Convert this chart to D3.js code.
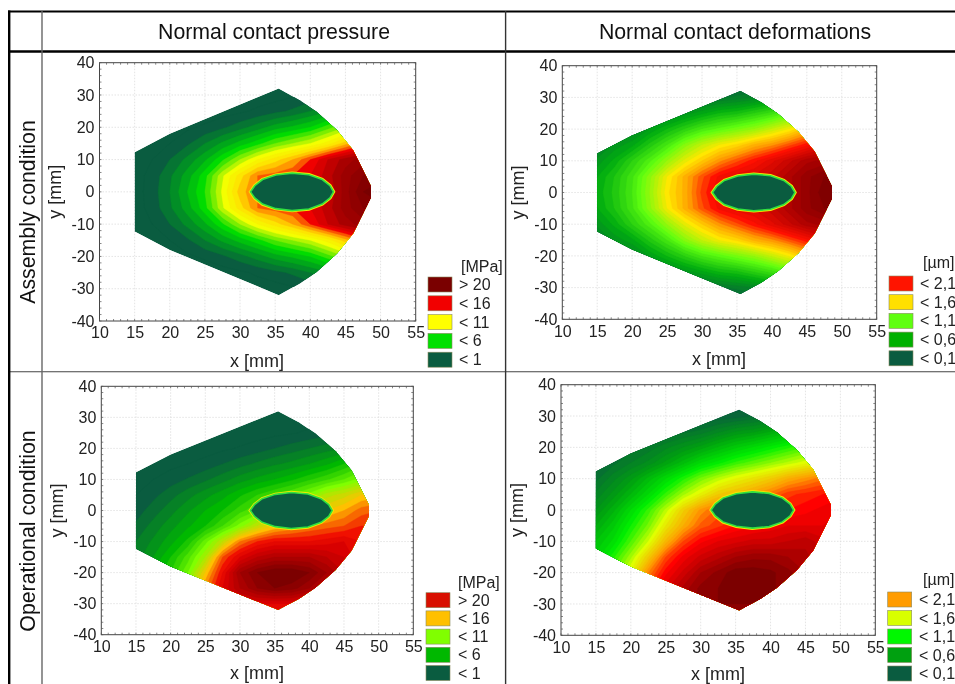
<!DOCTYPE html>
<html>
<head>
<meta charset="utf-8">
<style>
  html, body { margin: 0; padding: 0; background: #fff; overflow: hidden; }
  svg { display: block; font-family: "Liberation Sans", Arial, sans-serif; filter: blur(0.35px); }
  .tick text { fill: #222; }
</style>
</head>
<body>
<svg id="chart" width="955" height="684"></svg>
<script src="https://cdn.jsdelivr.net/npm/d3@7"></script>
<script>
// Contour values on a 2.5 x 5 mm grid.
const gridX = [15, 17.5, 20, 22.5, 25, 27.5, 30, 32.5, 35, 37.5, 40, 42.5, 45, 47.5, 50];
const gridY = [35, 30, 25, 20, 15, 10, 5, 0, -5, -10, -15, -20, -25, -30, -35];

const pressureAssembly = [
  [0, 0, 0, 0, 0, 0, 0, 0, 0.2, 0.3, 0.4, 0.5, 0.6, 0.7, 0.8],
  [0, 0, 0, 0, 0.1, 0.2, 0.3, 0.4, 0.5, 0.8, 1.2, 1.6, 2, 2.5, 3],
  [0, 0, 0.1, 0.2, 0.3, 0.5, 0.8, 1.2, 1.7, 2.2, 3, 3.8, 4.5, 5.5, 6],
  [0, 0.2, 0.5, 0.8, 1.2, 1.8, 2.6, 3.5, 4.5, 5.2, 6, 7.5, 9, 10, 11],
  [0, 0.5, 1, 1.8, 3, 4.2, 5.4, 6.6, 8, 9, 10, 11.5, 13.5, 15.5, 16.5],
  [0.3, 1, 2, 3.3, 4.8, 6.8, 9, 11, 12.5, 14, 16, 18, 19.5, 20.5, 21],
  [0.5, 1.4, 2.8, 4.5, 6.6, 9.8, 12.5, 15, 15.5, 16, 17, 18.5, 20.5, 22, 22.5],
  [0.5, 1.5, 3, 5, 7, 10.2, 13.5, 15, 15.5, 16, 17, 18, 20.5, 23, 24],
  [0.5, 1.4, 2.8, 4.5, 6.6, 9.8, 12.5, 15, 15.5, 16, 17, 18.5, 20.5, 22, 22.5],
  [0.3, 1, 2, 3.3, 4.8, 6.8, 9, 11, 12.5, 14, 16, 18, 19.5, 20.5, 21],
  [0, 0.5, 1, 1.8, 3, 4.2, 5.4, 6.6, 8, 9, 10, 11.5, 13.5, 15.5, 16.5],
  [0, 0.2, 0.5, 0.8, 1.2, 1.8, 2.6, 3.5, 4.5, 5.2, 6, 7.5, 9, 10, 11],
  [0, 0, 0.1, 0.2, 0.3, 0.5, 0.8, 1.2, 1.7, 2.2, 3, 3.8, 4.5, 5.5, 6],
  [0, 0, 0, 0, 0.1, 0.2, 0.3, 0.4, 0.5, 0.8, 1.2, 1.6, 2, 2.5, 3],
  [0, 0, 0, 0, 0, 0, 0, 0, 0.2, 0.3, 0.4, 0.5, 0.6, 0.7, 0.8],
];

const deformAssembly = [
  [0.05, 0.05, 0.05, 0.05, 0.05, 0.05, 0.05, 0.1, 0.1, 0.15, 0.2, 0.3, 0.4, 0.5, 0.6],
  [0.05, 0.05, 0.1, 0.1, 0.15, 0.2, 0.25, 0.3, 0.35, 0.4, 0.5, 0.6, 0.75, 0.9, 1],
  [0.1, 0.15, 0.2, 0.3, 0.4, 0.5, 0.6, 0.7, 0.75, 0.85, 0.95, 1.1, 1.3, 1.5, 1.6],
  [0.2, 0.3, 0.4, 0.55, 0.7, 0.85, 1, 1.1, 1.2, 1.3, 1.45, 1.6, 1.8, 2, 2.1],
  [0.35, 0.5, 0.6, 0.8, 1, 1.25, 1.45, 1.6, 1.7, 1.85, 1.95, 2.1, 2.25, 2.4, 2.5],
  [0.5, 0.65, 0.85, 1.05, 1.3, 1.55, 1.75, 1.95, 2.1, 2.25, 2.4, 2.55, 2.7, 2.75, 2.75],
  [0.62, 0.78, 0.98, 1.27, 1.6, 1.85, 2.1, 2.3, 2.4, 2.45, 2.55, 2.7, 2.85, 2.95, 3],
  [0.65, 0.8, 1, 1.3, 1.65, 1.85, 2.15, 2.35, 2.4, 2.45, 2.55, 2.7, 2.85, 3, 3.05],
  [0.62, 0.78, 0.98, 1.27, 1.6, 1.85, 2.1, 2.3, 2.4, 2.45, 2.55, 2.7, 2.85, 2.95, 3],
  [0.5, 0.65, 0.85, 1.05, 1.3, 1.55, 1.75, 1.95, 2.1, 2.25, 2.4, 2.55, 2.7, 2.75, 2.75],
  [0.35, 0.5, 0.6, 0.8, 1, 1.25, 1.45, 1.6, 1.7, 1.85, 1.95, 2.1, 2.25, 2.4, 2.5],
  [0.2, 0.3, 0.4, 0.55, 0.7, 0.85, 1, 1.1, 1.2, 1.3, 1.45, 1.6, 1.8, 2, 2.1],
  [0.1, 0.15, 0.2, 0.3, 0.4, 0.5, 0.6, 0.7, 0.75, 0.85, 0.95, 1.1, 1.3, 1.5, 1.6],
  [0.05, 0.05, 0.1, 0.1, 0.15, 0.2, 0.25, 0.3, 0.35, 0.4, 0.5, 0.6, 0.75, 0.9, 1],
  [0.05, 0.05, 0.05, 0.05, 0.05, 0.05, 0.05, 0.1, 0.1, 0.15, 0.2, 0.3, 0.4, 0.5, 0.6],
];

const pressureOperational = [
  [0, 0, 0, 0, 0, 0, 0, 0, 0, 0, 0, 0, 0, 0, 0],
  [0.2, 0.2, 0.2, 0.2, 0.2, 0.2, 0.2, 0.2, 0.2, 0.3, 0.5, 0.6, 0.7, 0.8, 0.9],
  [0.2, 0.2, 0.2, 0.2, 0.2, 0.2, 0.4, 0.5, 0.7, 0.9, 1.2, 1.6, 2, 2.5, 3],
  [0.2, 0.2, 0.2, 0.3, 0.5, 0.8, 1.1, 1.5, 2, 2.5, 3, 3.5, 4, 5, 5],
  [0.3, 0.5, 0.7, 1, 1.4, 2, 2.6, 3.2, 3.8, 4.3, 5, 5.8, 7, 8.5, 9],
  [0.6, 1, 1.5, 2.1, 2.8, 3.6, 4.5, 5.3, 6, 6.8, 7.8, 8.8, 10, 11.5, 12],
  [1, 1.7, 2.6, 3.6, 4.6, 5.6, 6.8, 8, 9, 10, 11.5, 13.5, 14.5, 16, 16.5],
  [1.5, 2.5, 3.6, 4.8, 6, 7, 8.5, 10, 12, 13, 15, 16, 17, 18.5, 19],
  [2.2, 3.4, 4.6, 5.8, 7, 9, 11.5, 14, 16, 17, 18, 18.5, 19, 20, 20],
  [3, 4.2, 5.6, 7.3, 10.5, 14, 18, 20, 21, 21, 21, 21.5, 22, 21, 20],
  [3.5, 5, 7, 9.5, 13, 19, 22, 24, 25, 25, 25, 24, 23, 21, 20],
  [4, 6, 8, 11, 16, 21, 26, 28, 29, 29, 28, 26, 24, 22, 20],
  [5, 7, 9, 13, 18, 22, 25, 27, 28, 27.5, 26, 24, 22, 21, 20],
  [6, 8, 11, 15, 19, 21, 22, 22, 22, 22, 21, 21, 20, 20, 20],
  [8, 10, 13, 16, 19, 20, 20, 20, 20, 20, 20, 20, 20, 20, 20],
];

const deformOperational = [
  [0.05, 0.05, 0.05, 0.05, 0.05, 0.05, 0.05, 0.05, 0.1, 0.1, 0.1, 0.1, 0.1, 0.1, 0.1],
  [0.1, 0.1, 0.1, 0.1, 0.1, 0.12, 0.15, 0.18, 0.2, 0.25, 0.3, 0.4, 0.5, 0.55, 0.6],
  [0.1, 0.12, 0.15, 0.2, 0.25, 0.3, 0.35, 0.45, 0.55, 0.6, 0.7, 0.8, 0.9, 0.95, 1],
  [0.15, 0.2, 0.3, 0.35, 0.45, 0.55, 0.65, 0.78, 0.9, 1, 1.1, 1.2, 1.3, 1.4, 1.45],
  [0.2, 0.3, 0.4, 0.5, 0.65, 0.82, 1, 1.12, 1.25, 1.35, 1.45, 1.55, 1.65, 1.75, 1.8],
  [0.3, 0.45, 0.6, 0.8, 1, 1.2, 1.4, 1.55, 1.68, 1.78, 1.9, 2.05, 2.15, 2.25, 2.3],
  [0.42, 0.58, 0.78, 1, 1.25, 1.5, 1.7, 1.9, 2, 2.12, 2.25, 2.4, 2.45, 2.5, 2.55],
  [0.55, 0.75, 1, 1.25, 1.55, 1.88, 2.15, 2.3, 2.35, 2.4, 2.45, 2.5, 2.55, 2.6, 2.65],
  [0.7, 0.9, 1.15, 1.4, 1.75, 2.05, 2.3, 2.4, 2.5, 2.55, 2.6, 2.65, 2.65, 2.65, 2.65],
  [0.85, 1.02, 1.3, 1.6, 2, 2.35, 2.55, 2.65, 2.7, 2.75, 2.75, 2.8, 2.85, 2.75, 2.7],
  [0.95, 1.2, 1.5, 1.9, 2.35, 2.6, 2.75, 2.85, 2.95, 3, 3, 2.95, 2.9, 2.8, 2.75],
  [1.05, 1.35, 1.7, 2.2, 2.55, 2.75, 2.95, 3.05, 3.15, 3.15, 3.12, 3.05, 2.95, 2.85, 2.8],
  [1.2, 1.5, 1.9, 2.4, 2.7, 2.9, 3.05, 3.1, 3.15, 3.15, 3.12, 3.05, 2.95, 2.85, 2.8],
  [1.4, 1.7, 2.1, 2.5, 2.8, 2.95, 3.05, 3.1, 3.1, 3.1, 3.05, 3, 2.9, 2.85, 2.8],
  [1.6, 1.9, 2.3, 2.6, 2.85, 2.95, 3, 3, 3, 3, 3, 2.95, 2.9, 2.85, 2.8],
];

// Outline of the contact surface and of the hole, in mm
const outlineX = [15, 20, 35.5, 38.5, 40.9, 43.8, 46.1, 48.6, 48.6, 46.1, 43.8, 40.9, 38.5, 35.5, 20, 15];
const outlineY = [12.3, 18, 32, 28.4, 24.8, 19.1, 12.9, 1.8, -1.8, -12.9, -19.1, -24.8, -28.4, -32, -18, -12.3];
const holeX = [31.5, 32.1, 33.2, 35.1, 37.4, 39.8, 41.7, 42.8, 43.3, 42.8, 41.7, 39.8, 37.4, 35.1, 33.2, 32.1];
const holeY = [0, 1.9, 3.8, 5.2, 5.8, 5.3, 3.8, 1.9, 0, -1.9, -3.8, -5.3, -5.8, -5.2, -3.8, -1.9];

const axisXTicks = d3.range(10, 56, 5);
const axisYTicks = d3.range(-40, 41, 10);

const pressureLabels = ["> 20", "< 16", "< 11", "< 6", "< 1"];
const deformLabels = ["< 2,1", "< 1,6", "< 1,1", "< 0,6", "< 0,1"];

const DARK_GREEN = "#0a5c40";

// One entry per plot. frame = left, right, top, bottom of the plot box in the page.
const panels = [
  {
    values: pressureAssembly, thresholds: d3.range(1, 25, 1),
    stops: [1, 3.5, 6, 10, 12.5, 14.5, 16, 19, 23],
    colors: [DARK_GREEN, "#009a20", "#00dc00", "#f4ff00", "#ffe000", "#ff8000", "#f00000", "#a80000", "#780000"],
    frame: [99.5, 415.7, 62.7, 321],
    legendColors: ["#7a0000", "#f20000", "#ffff00", "#00e000", DARK_GREEN],
    legendLabels: pressureLabels, unit: "[MPa]",
    legend: { x: 428, y: 277, step: 18.8, textX: 459, unitX: 461, unitY: 272 },
    xLabel: [257, 367], yLabelX: 61,
  },
  {
    values: deformAssembly, thresholds: d3.range(0.1, 3.05, 0.075),
    stops: [0.1, 0.6, 1.1, 1.6, 1.9, 2.2, 2.7, 3],
    colors: [DARK_GREEN, "#00ac10", "#60ff10", "#ffe800", "#ff9a00", "#ff1000", "#a80000", "#780000"],
    frame: [562.3, 876.7, 65.7, 319.3],
    legendColors: ["#ff1400", "#ffe000", "#60ff10", "#00b000", DARK_GREEN],
    legendLabels: deformLabels, unit: "[\u00b5m]",
    legend: { x: 889, y: 276, step: 18.7, textX: 920, unitX: 923, unitY: 268 },
    xLabel: [719, 365], yLabelX: 524,
  },
  {
    values: pressureOperational, thresholds: d3.range(1, 30, 1),
    stops: [1, 6, 11, 16, 20, 22, 28],
    colors: [DARK_GREEN, "#00b800", "#80ff00", "#ffc000", "#f01000", "#d80000", "#7c0000"],
    frame: [101.3, 413.3, 386.3, 634.7],
    legendColors: ["#d81000", "#ffc000", "#80ff00", "#00b800", DARK_GREEN],
    legendLabels: pressureLabels, unit: "[MPa]",
    legend: { x: 426, y: 592.7, step: 18.2, textX: 458, unitX: 458, unitY: 588 },
    xLabel: [257, 679], yLabelX: 63,
  },
  {
    values: deformOperational, thresholds: d3.range(0.1, 3.3, 0.075),
    stops: [0.1, 0.6, 1.1, 1.6, 2.1, 2.5, 3.1],
    colors: [DARK_GREEN, "#00a010", "#00f000", "#e0ff00", "#ff9c00", "#ff0000", "#7c0000"],
    frame: [561, 875.3, 384.7, 635.3],
    legendColors: ["#ff9c00", "#d8ff00", "#00f800", "#00a010", DARK_GREEN],
    legendLabels: deformLabels, unit: "[\u00b5m]",
    legend: { x: 887.7, y: 592, step: 18.5, textX: 919, unitX: 923, unitY: 585 },
    xLabel: [718, 680], yLabelX: 523,
  },
];

const svg = d3.select("#chart");

function drawTable() {
  const g = svg.append("g").attr("fill", "none");
  g.append("line").attr("x1", 8).attr("x2", 955).attr("y1", 11.5).attr("y2", 11.5).attr("stroke", "#000").attr("stroke-width", 2.2);
  g.append("line").attr("x1", 8).attr("x2", 955).attr("y1", 51.5).attr("y2", 51.5).attr("stroke", "#000").attr("stroke-width", 2.4);
  g.append("line").attr("x1", 9).attr("x2", 955).attr("y1", 371.8).attr("y2", 371.8).attr("stroke", "#444").attr("stroke-width", 1.1);
  g.append("line").attr("x1", 9.2).attr("x2", 9.2).attr("y1", 10.5).attr("y2", 684).attr("stroke", "#000").attr("stroke-width", 2.4);
  g.append("line").attr("x1", 42).attr("x2", 42).attr("y1", 11).attr("y2", 684).attr("stroke", "#666").attr("stroke-width", 1.4);
  g.append("line").attr("x1", 505.6).attr("x2", 505.6).attr("y1", 11).attr("y2", 684).attr("stroke", "#333").attr("stroke-width", 1.4);

  const t = svg.append("g").attr("fill", "#111").attr("font-size", 21.3);
  t.append("text").attr("x", 274).attr("y", 38.5).attr("text-anchor", "middle").text("Normal contact pressure");
  t.append("text").attr("x", 735).attr("y", 38.5).attr("text-anchor", "middle").text("Normal contact deformations");
  t.append("text").attr("transform", "translate(35,212) rotate(-90)").attr("text-anchor", "middle").text("Assembly condition");
  t.append("text").attr("transform", "translate(35,531) rotate(-90)").attr("text-anchor", "middle").text("Operational condition");
}

function drawPanel(panel, idx) {
  const [left, right, top, bottom] = panel.frame;
  const x = d3.scaleLinear().domain([10, 55]).range([left, right]);
  const y = d3.scaleLinear().domain([-40, 40]).range([bottom, top]);
  const color = d3.scaleLinear().domain(panel.stops).range(panel.colors).clamp(true);
  const g = svg.append("g");

  // grid
  g.append("g").selectAll("line").data(axisXTicks.slice(1, -1)).enter().append("line")
    .attr("x1", d => x(d)).attr("x2", d => x(d)).attr("y1", top).attr("y2", bottom)
    .attr("stroke", "#ddd").attr("stroke-width", 0.8).attr("stroke-dasharray", "1.5,1.5");
  g.append("g").selectAll("line").data(axisYTicks.slice(1, -1)).enter().append("line")
    .attr("x1", left).attr("x2", right).attr("y1", d => y(d)).attr("y2", d => y(d))
    .attr("stroke", "#ddd").attr("stroke-width", 0.8).attr("stroke-dasharray", "1.5,1.5");

  const outline = outlineX.map((d, i) => [x(d), y(outlineY[i])]);
  const hole = holeX.map((d, i) => [x(d), y(holeY[i])]);
  const clipId = "clip-" + idx;
  svg.append("clipPath").attr("id", clipId).append("polygon").attr("points", outline.join(" "));

  // contour bands; d3.contours puts sample i at i + 0.5
  const contours = d3.contours()
    .size([gridX.length, gridY.length])
    .thresholds(panel.thresholds)(panel.values.flat());
  const stepX = gridX[1] - gridX[0], stepY = gridY[1] - gridY[0];
  const path = d3.geoPath(d3.geoTransform({
    point(px, py) {
      this.stream.point(x(gridX[0] + (px - 0.5) * stepX), y(gridY[0] + (py - 0.5) * stepY));
    },
  }));

  const bands = g.append("g").attr("clip-path", `url(#${clipId})`);
  bands.append("polygon").attr("points", outline.join(" ")).attr("fill", DARK_GREEN);
  bands.selectAll("path").data(contours).enter().append("path")
    .attr("d", path)
    .attr("fill", d => color(d.value))
    .attr("stroke", d => color(d.value))
    .attr("stroke-width", 0.4);

  // hole with its bright rim
  g.append("polygon").attr("points", hole.join(" ")).attr("fill", "none")
    .attr("stroke", "#f0e800").attr("stroke-width", 3.4);
  g.append("polygon").attr("points", hole.join(" ")).attr("fill", DARK_GREEN)
    .attr("stroke", "#30e040").attr("stroke-width", 1.6);

  // frame, ticks
  g.append("rect").attr("x", left).attr("y", top).attr("width", right - left).attr("height", bottom - top)
    .attr("fill", "none").attr("stroke", "#444").attr("stroke-width", 1);

  const minorX = d3.range(10, 55.5, 1);
  const minorY = d3.range(-40, 40.5, 2);
  const ticks = g.append("g").attr("stroke", "#555").attr("stroke-width", 0.7);
  [top, bottom].forEach((edge, e) => {
    ticks.append("g").selectAll("line").data(minorX).enter().append("line")
      .attr("x1", d => x(d)).attr("x2", d => x(d))
      .attr("y1", edge).attr("y2", edge + (e ? -2 : 2));
  });
  [left, right].forEach((edge, e) => {
    ticks.append("g").selectAll("line").data(minorY).enter().append("line")
      .attr("y1", d => y(d)).attr("y2", d => y(d))
      .attr("x1", edge).attr("x2", edge + (e ? -2 : 2));
  });

  // plain hyphen on the negative labels, like the reference
  const xAxis = d3.axisBottom(x).tickValues(axisXTicks).tickSize(0).tickPadding(6);
  const yAxis = d3.axisLeft(y).tickValues(axisYTicks).tickFormat(d => String(d)).tickSize(0).tickPadding(5);
  g.append("g").attr("transform", `translate(0,${bottom})`).call(xAxis)
    .call(a => a.select(".domain").remove())
    .selectAll("text").attr("font-size", 16).attr("font-family", "Liberation Sans");
  g.append("g").attr("transform", `translate(${left},0)`).call(yAxis)
    .call(a => a.select(".domain").remove())
    .selectAll("text").attr("font-size", 16).attr("font-family", "Liberation Sans");

  g.append("text").attr("x", panel.xLabel[0]).attr("y", panel.xLabel[1]).attr("text-anchor", "middle")
    .attr("font-size", 18).attr("fill", "#222").text("x [mm]");
  g.append("text").attr("transform", `translate(${panel.yLabelX},${y(0)}) rotate(-90)`)
    .attr("text-anchor", "middle").attr("font-size", 18).attr("fill", "#222").text("y [mm]");

  // legend
  const lg = g.append("g");
  lg.selectAll("rect").data(panel.legendColors).enter().append("rect")
    .attr("x", panel.legend.x).attr("y", (d, i) => panel.legend.y + i * panel.legend.step)
    .attr("width", 24).attr("height", 15)
    .attr("fill", d => d).attr("stroke", "#8a8a60").attr("stroke-width", 0.6);
  lg.selectAll("text.lab").data(panel.legendLabels).enter().append("text")
    .attr("class", "lab")
    .attr("x", panel.legend.textX).attr("y", (d, i) => panel.legend.y + i * panel.legend.step + 13)
    .attr("font-size", 16).attr("fill", "#222").text(d => d);
  lg.append("text").attr("x", panel.legend.unitX).attr("y", panel.legend.unitY)
    .attr("font-size", 16).attr("fill", "#222").text(panel.unit);
}

drawTable();
panels.forEach(drawPanel);
</script>
</body>
</html>
